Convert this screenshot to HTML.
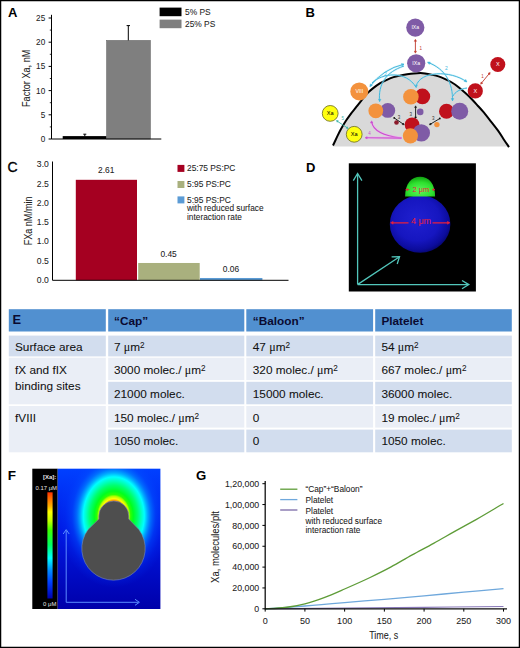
<!DOCTYPE html>
<html><head><meta charset="utf-8"><style>
html,body{margin:0;padding:0;background:#fff;}
#fig{position:relative;width:520px;height:648px;overflow:hidden;background:#fff;}
svg{position:absolute;left:0;top:0;font-family:"Liberation Sans", sans-serif;}
</style></head><body><div id="fig">
<svg width="520" height="648" viewBox="0 0 520 648">
<rect x="0" y="0" width="520" height="648" fill="#fff"/>
<text transform="translate(8.00,16.70)" font-size="13" text-anchor="start" fill="#000" font-weight="bold">A</text>
<rect x="62.7" y="136.1" width="43.9" height="2.9" fill="#000"/>
<rect x="106.6" y="40.4" width="43.8" height="98.6" fill="#7f7f7f" stroke="#6a6a6a" stroke-width="0.6"/>
<path d="M84.8 136.2V134.2M83.3 134.2H86.3" stroke="#000" stroke-width="1" fill="none"/>
<path d="M128.3 40.4V25.6M126.6 25.6H130" stroke="#000" stroke-width="1" fill="none"/>
<path d="M51.5 14.8V139H161.3" stroke="#000" stroke-width="1" fill="none"/>
<path d="M48.6 139.00H51.5" stroke="#000" stroke-width="1"/>
<text transform="translate(45.20,141.90)" font-size="8.2" text-anchor="end" fill="#222" stroke="#222" stroke-width="0.06">0</text>
<path d="M49.8 126.90H51.5" stroke="#000" stroke-width="0.8"/>
<path d="M48.6 114.80H51.5" stroke="#000" stroke-width="1"/>
<text transform="translate(45.20,117.70)" font-size="8.2" text-anchor="end" fill="#222" stroke="#222" stroke-width="0.06">5</text>
<path d="M49.8 102.70H51.5" stroke="#000" stroke-width="0.8"/>
<path d="M48.6 90.60H51.5" stroke="#000" stroke-width="1"/>
<text transform="translate(45.20,93.50)" font-size="8.2" text-anchor="end" fill="#222" stroke="#222" stroke-width="0.06">10</text>
<path d="M49.8 78.50H51.5" stroke="#000" stroke-width="0.8"/>
<path d="M48.6 66.40H51.5" stroke="#000" stroke-width="1"/>
<text transform="translate(45.20,69.30)" font-size="8.2" text-anchor="end" fill="#222" stroke="#222" stroke-width="0.06">15</text>
<path d="M49.8 54.30H51.5" stroke="#000" stroke-width="0.8"/>
<path d="M48.6 42.20H51.5" stroke="#000" stroke-width="1"/>
<text transform="translate(45.20,45.10)" font-size="8.2" text-anchor="end" fill="#222" stroke="#222" stroke-width="0.06">20</text>
<path d="M49.8 30.10H51.5" stroke="#000" stroke-width="0.8"/>
<path d="M48.6 18.00H51.5" stroke="#000" stroke-width="1"/>
<text transform="translate(45.20,20.90)" font-size="8.2" text-anchor="end" fill="#222" stroke="#222" stroke-width="0.06">25</text>
<rect x="159.6" y="7.6" width="21.9" height="8.6" fill="#000"/>
<rect x="159.6" y="19.6" width="21.9" height="8.6" fill="#7f7f7f"/>
<text transform="translate(185.00,15.10)" font-size="8.4" text-anchor="start" fill="#222" stroke="#222" stroke-width="0.06">5% PS</text>
<text transform="translate(185.00,27.10)" font-size="8.4" text-anchor="start" fill="#222" stroke="#222" stroke-width="0.06">25% PS</text>
<text transform="translate(29.90,78.30) rotate(-90) scale(0.775,1.0)" font-size="11.8" text-anchor="middle" fill="#1a1a1a" stroke="#1a1a1a" stroke-width="0.06">Factor Xa, nM</text>
<text transform="translate(305.60,16.80)" font-size="13" text-anchor="start" fill="#000" font-weight="bold">B</text>
<path d="M333.0 145.5 C333.6 144.2 335.5 140.2 336.8 137.4 C338.1 134.7 339.4 131.8 341.0 129.0 C342.6 126.2 344.4 123.1 346.1 120.5 C347.8 117.9 349.5 115.6 351.2 113.3 C352.9 111.0 354.8 108.9 356.3 106.9 C357.9 105.0 358.8 103.8 360.5 101.6 C362.2 99.4 364.5 96.2 366.7 93.9 C368.9 91.6 371.2 89.7 373.5 87.9 C375.8 86.1 378.0 84.6 380.2 83.2 C382.4 81.8 384.7 80.8 386.9 79.8 C389.1 78.8 391.4 77.8 393.6 77.1 C395.9 76.4 398.1 76.0 400.4 75.5 C402.6 75.0 404.9 74.5 407.1 74.2 C409.3 73.9 411.6 73.6 413.8 73.4 C416.1 73.2 418.7 73.1 420.6 73.1 C422.5 73.1 423.1 73.1 425.0 73.4 C426.9 73.7 429.4 74.2 431.7 74.7 C433.9 75.2 436.2 75.7 438.5 76.4 C440.8 77.1 443.0 78.1 445.2 79.1 C447.4 80.1 449.7 81.2 451.9 82.5 C454.1 83.8 456.4 85.4 458.6 87.2 C460.9 89.0 463.1 91.0 465.4 93.1 C467.6 95.1 470.0 97.3 472.1 99.5 C474.2 101.7 476.2 104.0 478.0 106.0 C479.8 108.0 480.6 108.7 482.7 111.2 C484.8 113.7 487.8 117.5 490.4 120.8 C493.0 124.1 495.9 127.7 498.2 130.9 C500.5 134.1 502.5 137.5 504.3 140.2 C506.1 142.9 508.2 145.9 509.0 147.1 L509 146.6 L333 146.6Z" fill="#d9d9d9"/>
<path d="M333.0 145.5 C333.6 144.2 335.5 140.2 336.8 137.4 C338.1 134.7 339.4 131.8 341.0 129.0 C342.6 126.2 344.4 123.1 346.1 120.5 C347.8 117.9 349.5 115.6 351.2 113.3 C352.9 111.0 354.8 108.9 356.3 106.9 C357.9 105.0 358.8 103.8 360.5 101.6 C362.2 99.4 364.5 96.2 366.7 93.9 C368.9 91.6 371.2 89.7 373.5 87.9 C375.8 86.1 378.0 84.6 380.2 83.2 C382.4 81.8 384.7 80.8 386.9 79.8 C389.1 78.8 391.4 77.8 393.6 77.1 C395.9 76.4 398.1 76.0 400.4 75.5 C402.6 75.0 404.9 74.5 407.1 74.2 C409.3 73.9 411.6 73.6 413.8 73.4 C416.1 73.2 418.7 73.1 420.6 73.1 C422.5 73.1 423.1 73.1 425.0 73.4 C426.9 73.7 429.4 74.2 431.7 74.7 C433.9 75.2 436.2 75.7 438.5 76.4 C440.8 77.1 443.0 78.1 445.2 79.1 C447.4 80.1 449.7 81.2 451.9 82.5 C454.1 83.8 456.4 85.4 458.6 87.2 C460.9 89.0 463.1 91.0 465.4 93.1 C467.6 95.1 470.0 97.3 472.1 99.5 C474.2 101.7 476.2 104.0 478.0 106.0 C479.8 108.0 480.6 108.7 482.7 111.2 C484.8 113.7 487.8 117.5 490.4 120.8 C493.0 124.1 495.9 127.7 498.2 130.9 C500.5 134.1 502.5 137.5 504.3 140.2 C506.1 142.9 508.2 145.9 509.0 147.1" fill="none" stroke="#000" stroke-width="2"/>
<path d="M370 86.5 Q383 69 404 64.2" fill="none" stroke="#a8e4f4" stroke-width="2.2" opacity="0.35"/>
<path d="M370 86.5 Q383 69 404 64.2" fill="none" stroke="#43b7dc" stroke-width="1.0"/>
<path d="M370.32 83.92L370.00 86.50L372.34 85.38Z" fill="#43b7dc" stroke="#43b7dc" stroke-width="0.5"/>
<path d="M402.10 65.97L404.00 64.20L401.48 63.56Z" fill="#43b7dc" stroke="#43b7dc" stroke-width="0.5"/>
<path d="M372 83 C382 73 406 70 416.2 87.5" fill="none" stroke="#a8e4f4" stroke-width="2.2" opacity="0.35"/>
<path d="M372 83 C382 73 406 70 416.2 87.5" fill="none" stroke="#43b7dc" stroke-width="1.0"/>
<path d="M414.95 85.22L416.20 87.50L417.45 85.22Z" fill="#43b7dc" stroke="#43b7dc" stroke-width="0.5"/>
<path d="M404 66 C386 72 378 84 379.6 101.5" fill="none" stroke="#a8e4f4" stroke-width="2.2" opacity="0.35"/>
<path d="M404 66 C386 72 378 84 379.6 101.5" fill="none" stroke="#43b7dc" stroke-width="1.0"/>
<path d="M378.47 99.16L379.60 101.50L380.96 99.28Z" fill="#43b7dc" stroke="#43b7dc" stroke-width="0.5"/>
<path d="M427.7 62.3 C446 69 453 84 452.5 100.8" fill="none" stroke="#a8e4f4" stroke-width="2.2" opacity="0.35"/>
<path d="M427.7 62.3 C446 69 453 84 452.5 100.8" fill="none" stroke="#43b7dc" stroke-width="1.0"/>
<path d="M430.29 62.09L427.70 62.30L429.28 64.37Z" fill="#43b7dc" stroke="#43b7dc" stroke-width="0.5"/>
<path d="M451.25 98.52L452.50 100.80L453.75 98.52Z" fill="#43b7dc" stroke="#43b7dc" stroke-width="0.5"/>
<path d="M416.2 86 C420 71 450 70 466.8 81.8" fill="none" stroke="#a8e4f4" stroke-width="2.2" opacity="0.35"/>
<path d="M416.2 86 C420 71 450 70 466.8 81.8" fill="none" stroke="#43b7dc" stroke-width="1.0"/>
<path d="M464.23 81.44L466.80 81.80L465.71 79.44Z" fill="#43b7dc" stroke="#43b7dc" stroke-width="0.5"/>
<path d="M467 88 C460 89 455 92 453 96" fill="none" stroke="#a8e4f4" stroke-width="2.2" opacity="0.35"/>
<path d="M467 88 C460 89 455 92 453 96" fill="none" stroke="#43b7dc" stroke-width="1.0"/>
<text transform="translate(384.00,76.00)" font-size="5" text-anchor="start" fill="#43b7dc">2</text>
<text transform="translate(445.00,70.00)" font-size="5" text-anchor="start" fill="#43b7dc">2</text>
<circle cx="415.3" cy="27.6" r="9.1" fill="#7f5ba6"/>
<text transform="translate(415.30,29.40)" font-size="5.2" text-anchor="middle" fill="#fff">IXa</text>
<circle cx="416.2" cy="63.3" r="9.1" fill="#7f5ba6"/>
<text transform="translate(416.20,65.10)" font-size="5.2" text-anchor="middle" fill="#fff">IXa</text>
<path d="M415.4 40.5V51.8" stroke="#c0392b" stroke-width="0.9"/>
<path d="M416.50 41.32L415.40 39.30L414.30 41.32Z" fill="#c0392b" stroke="#c0392b" stroke-width="0.5"/>
<path d="M414.30 51.18L415.40 53.20L416.50 51.18Z" fill="#c0392b" stroke="#c0392b" stroke-width="0.5"/>
<text transform="translate(419.50,49.50)" font-size="4.5" text-anchor="start" fill="#c0392b">1</text>
<circle cx="497.8" cy="64.5" r="7.5" fill="#c0111c"/>
<text transform="translate(497.80,66.40)" font-size="5.5" text-anchor="middle" fill="#fff">X</text>
<circle cx="475.3" cy="90.9" r="7.6" fill="#c0111c"/>
<text transform="translate(475.30,92.80)" font-size="5.5" text-anchor="middle" fill="#fff">X</text>
<path d="M481.4 83.2L489.4 73.4" stroke="#c0392b" stroke-width="0.9"/>
<path d="M481.05 81.95L480.60 84.20L482.74 83.36Z" fill="#c0392b" stroke="#c0392b" stroke-width="0.5"/>
<path d="M489.81 74.67L490.20 72.40L488.08 73.30Z" fill="#c0392b" stroke="#c0392b" stroke-width="0.5"/>
<text transform="translate(481.20,77.50)" font-size="4.5" text-anchor="start" fill="#c0392b">1</text>
<circle cx="359.3" cy="91.4" r="9.0" fill="#f3923d"/>
<text transform="translate(359.30,93.30)" font-size="5.2" text-anchor="middle" fill="#fff">VIII</text>
<circle cx="330.2" cy="113.4" r="7.9" fill="#ffff10" stroke="#77772a" stroke-width="0.9"/>
<text transform="translate(330.20,115.40)" font-size="5.6" text-anchor="middle" fill="#000">Xa</text>
<circle cx="354.2" cy="134.3" r="7.9" fill="#ffff10" stroke="#77772a" stroke-width="0.9"/>
<text transform="translate(354.20,136.30)" font-size="5.6" text-anchor="middle" fill="#000">Xa</text>
<path d="M337 121L347.5 128" stroke="#3bb3a8" stroke-width="0.9"/>
<path d="M338.29 120.68L336.30 120.50L337.23 122.27Z" fill="#3bb3a8" stroke="#3bb3a8" stroke-width="0.5"/>
<path d="M346.21 128.32L348.20 128.50L347.27 126.73Z" fill="#3bb3a8" stroke="#3bb3a8" stroke-width="0.5"/>
<text transform="translate(341.50,119.80)" font-size="4.5" text-anchor="start" fill="#3bb3a8">5</text>
<path d="M401.6 138 C385 136 373 131 371.7 121.8" fill="none" stroke="#f0b0f0" stroke-width="2.6" opacity="0.6"/>
<path d="M401.6 138 C385 136 373 131 371.7 121.8" fill="none" stroke="#cc4fd0" stroke-width="1.1"/>
<path d="M401.6 138.1 L366.5 137.8" fill="none" stroke="#f0b0f0" stroke-width="2.6" opacity="0.6"/>
<path d="M401.6 138.1 L366.5 137.8" fill="none" stroke="#cc4fd0" stroke-width="1.1"/>
<path d="M372.75 122.91L371.60 120.80L370.45 122.91Z" fill="#cc4fd0" stroke="#cc4fd0" stroke-width="0.5"/>
<path d="M367.11 136.65L365.00 137.80L367.11 138.95Z" fill="#cc4fd0" stroke="#cc4fd0" stroke-width="0.5"/>
<text transform="translate(368.30,134.80)" font-size="4.5" text-anchor="start" fill="#cc4fd0">4</text>
<circle cx="387.8" cy="110.4" r="7.4" fill="#7f5ba6"/>
<circle cx="375.8" cy="110.8" r="7.4" fill="#f3923d"/>
<circle cx="422.4" cy="96.4" r="7.8" fill="#c0111c"/>
<circle cx="410.9" cy="96.7" r="7.8" fill="#f3923d"/>
<circle cx="420.2" cy="111.9" r="3.3" fill="#7f5ba6"/>
<path d="M415.6 107.2V117.3" stroke="#111" stroke-width="0.9"/>
<path d="M416.56 107.56L415.60 105.80L414.64 107.56Z" fill="#111" stroke="#111" stroke-width="0.5"/>
<path d="M414.64 116.94L415.60 118.70L416.56 116.94Z" fill="#111" stroke="#111" stroke-width="0.5"/>
<text transform="translate(409.50,115.50)" font-size="4.5" text-anchor="start" fill="#333">3</text>
<circle cx="412.1" cy="124.8" r="7.4" fill="#c0111c"/>
<circle cx="421.3" cy="132.9" r="8.7" fill="#7f5ba6"/>
<circle cx="410.4" cy="135.8" r="7.6" fill="#f3923d"/>
<circle cx="396.5" cy="122.5" r="2.3" fill="#8b1a2b"/>
<path d="M394.2 117.9L403.5 124.3" stroke="#111" stroke-width="0.9"/>
<circle cx="394.2" cy="117.9" r="0.9" fill="#111"/>
<path d="M402.21 124.59L404.20 124.80L403.30 123.02Z" fill="#111" stroke="#111" stroke-width="0.5"/>
<text transform="translate(397.70,119.00)" font-size="4.5" text-anchor="start" fill="#333">3</text>
<circle cx="436.9" cy="124.6" r="2.7" fill="#f3923d"/>
<path d="M439.8 118.5L430 124.4" stroke="#111" stroke-width="0.9"/>
<circle cx="439.8" cy="118.5" r="0.9" fill="#111"/>
<path d="M430.27 123.05L429.30 124.80L431.30 124.68Z" fill="#111" stroke="#111" stroke-width="0.5"/>
<text transform="translate(432.00,119.50)" font-size="4.5" text-anchor="start" fill="#333">3</text>
<circle cx="446.5" cy="111.2" r="7.5" fill="#c0111c"/>
<circle cx="459.7" cy="111.2" r="8.5" fill="#7f5ba6"/>
<text transform="translate(7.60,172.00)" font-size="14" text-anchor="start" fill="#000" stroke="#000" stroke-width="0.35">C</text>
<rect x="75.8" y="179.81" width="61.2" height="100.48" fill="#a50021"/>
<rect x="138.2" y="262.98" width="61.5" height="17.32" fill="#a9b07e"/>
<rect x="200" y="277.99" width="62.4" height="2.31" fill="#5b9bd5"/>
<path d="M52.5 161.5V280.3H288.5" stroke="#000" stroke-width="1" fill="none"/>
<text transform="translate(48.80,282.80)" font-size="8.6" text-anchor="end" fill="#222" stroke="#222" stroke-width="0.06">0.0</text>
<text transform="translate(48.80,263.55)" font-size="8.6" text-anchor="end" fill="#222" stroke="#222" stroke-width="0.06">0.5</text>
<text transform="translate(48.80,244.30)" font-size="8.6" text-anchor="end" fill="#222" stroke="#222" stroke-width="0.06">1.0</text>
<text transform="translate(48.80,225.05)" font-size="8.6" text-anchor="end" fill="#222" stroke="#222" stroke-width="0.06">1.5</text>
<text transform="translate(48.80,205.80)" font-size="8.6" text-anchor="end" fill="#222" stroke="#222" stroke-width="0.06">2.0</text>
<text transform="translate(48.80,186.55)" font-size="8.6" text-anchor="end" fill="#222" stroke="#222" stroke-width="0.06">2.5</text>
<text transform="translate(48.80,167.30)" font-size="8.6" text-anchor="end" fill="#222" stroke="#222" stroke-width="0.06">3.0</text>
<text transform="translate(106.20,173.20)" font-size="8.4" text-anchor="middle" fill="#222" stroke="#222" stroke-width="0.06">2.61</text>
<text transform="translate(168.60,256.60)" font-size="8.4" text-anchor="middle" fill="#222" stroke="#222" stroke-width="0.06">0.45</text>
<text transform="translate(231.00,272.20)" font-size="8.4" text-anchor="middle" fill="#222" stroke="#222" stroke-width="0.06">0.06</text>
<text transform="translate(31.50,220.90) rotate(-90) scale(0.81,1.0)" font-size="11.2" text-anchor="middle" fill="#1a1a1a" stroke="#1a1a1a" stroke-width="0.06">FXa nM/min</text>
<rect x="177.5" y="164.9" width="6.9" height="7" fill="#a50021"/>
<rect x="177.5" y="181" width="6.9" height="7" fill="#a9b07e"/>
<rect x="177.5" y="196.4" width="6.9" height="7" fill="#5b9bd5"/>
<text transform="translate(187.00,171.40)" font-size="8.4" text-anchor="start" fill="#222" stroke="#222" stroke-width="0.06">25:75 PS:PC</text>
<text transform="translate(187.00,187.20)" font-size="8.4" text-anchor="start" fill="#222" stroke="#222" stroke-width="0.06">5:95 PS:PC</text>
<text transform="translate(187.00,202.60)" font-size="8.4" text-anchor="start" fill="#222" stroke="#222" stroke-width="0.06">5:95 PS:PC</text>
<text transform="translate(187.00,211.20)" font-size="8.3" text-anchor="start" fill="#222" stroke="#222" stroke-width="0.06">with reduced surface</text>
<text transform="translate(187.00,219.80)" font-size="8.3" text-anchor="start" fill="#222" stroke="#222" stroke-width="0.06">interaction rate</text>
<text transform="translate(306.00,171.70)" font-size="13" text-anchor="start" fill="#000" font-weight="bold">D</text>
<rect x="348.8" y="163.3" width="127.1" height="128.2" fill="#000"/>
<defs>
<radialGradient id="gBlue" cx="0.45" cy="0.42" r="0.62">
<stop offset="0" stop-color="#2020d0"/><stop offset="0.6" stop-color="#1616c0"/><stop offset="0.85" stop-color="#0c0c9c"/><stop offset="1" stop-color="#050560"/>
</radialGradient>
<radialGradient id="gGreen" cx="0.5" cy="0.7" r="0.7">
<stop offset="0" stop-color="#5cf55c"/><stop offset="0.6" stop-color="#2ee02e"/><stop offset="1" stop-color="#10a010"/>
</radialGradient>
</defs>
<ellipse cx="420.1" cy="224" rx="30.3" ry="28.7" fill="url(#gBlue)"/>
<path d="M405.1 196.6 C405.1 183.5 411.5 176.8 420.1 176.8 C428.7 176.8 435.1 183.5 435.1 196.6 Z" fill="url(#gGreen)"/>
<path d="M392 222.8H408.5M432.5 222.8H448.5" stroke="#e8203c" stroke-width="1.3"/>
<path d="M393.13 221.36L390.50 222.80L393.13 224.24Z" fill="#e8203c" stroke="#e8203c" stroke-width="0.5"/>
<path d="M447.37 224.24L450.00 222.80L447.37 221.36Z" fill="#e8203c" stroke="#e8203c" stroke-width="0.5"/>
<text transform="translate(421.00,224.20)" font-size="9" text-anchor="middle" fill="#e8203c">4 μm</text>
<path d="M406.5 189.6H409.3M432.3 189.6H434" stroke="#e8203c" stroke-width="0.9"/>
<path d="M407.53 188.55L405.60 189.60L407.53 190.65Z" fill="#e8203c" stroke="#e8203c" stroke-width="0.5"/>
<path d="M433.07 190.65L435.00 189.60L433.07 188.55Z" fill="#e8203c" stroke="#e8203c" stroke-width="0.5"/>
<text transform="translate(420.80,192.30)" font-size="7.4" text-anchor="middle" fill="#e8203c">2 μm</text>
<path d="M357.6 284.6V174M357.6 284.6H468M357.8 284.4L398.8 257.2" stroke="#52c6bb" stroke-width="1.3" fill="none"/>
<path d="M353.3 180.6L357.6 173.4L361.9 180.6" stroke="#52c6bb" stroke-width="1.3" fill="none"/>
<path d="M462 280.5L468.8 284.6L462 288.7" stroke="#52c6bb" stroke-width="1.3" fill="none"/>
<path d="M391.6 256.9L399.5 256.7L397.2 264" stroke="#52c6bb" stroke-width="1.3" fill="none"/>
<rect x="8.8" y="309.2" width="97.0" height="22.3" fill="#5190d0"/>
<rect x="108.2" y="309.2" width="136.1" height="22.3" fill="#5190d0"/>
<rect x="246.3" y="309.2" width="126.8" height="22.3" fill="#5190d0"/>
<rect x="375.2" y="309.2" width="136.6" height="22.3" fill="#5190d0"/>
<rect x="8.8" y="335.6" width="97.0" height="20.8" fill="#d2ddee"/>
<rect x="108.2" y="335.6" width="136.1" height="20.8" fill="#d2ddee"/>
<rect x="246.3" y="335.6" width="126.8" height="20.8" fill="#d2ddee"/>
<rect x="375.2" y="335.6" width="136.6" height="20.8" fill="#d2ddee"/>
<rect x="8.8" y="357.7" width="97.0" height="46.6" fill="#eaeef6"/>
<rect x="8.8" y="406.0" width="97.0" height="46.3" fill="#eaeef6"/>
<rect x="108.2" y="357.7" width="136.1" height="22.4" fill="#eaeef6"/>
<rect x="246.3" y="357.7" width="126.8" height="22.4" fill="#eaeef6"/>
<rect x="375.2" y="357.7" width="136.6" height="22.4" fill="#eaeef6"/>
<rect x="108.2" y="381.8" width="136.1" height="22.5" fill="#d2ddee"/>
<rect x="246.3" y="381.8" width="126.8" height="22.5" fill="#d2ddee"/>
<rect x="375.2" y="381.8" width="136.6" height="22.5" fill="#d2ddee"/>
<rect x="108.2" y="406.0" width="136.1" height="21.6" fill="#eaeef6"/>
<rect x="246.3" y="406.0" width="126.8" height="21.6" fill="#eaeef6"/>
<rect x="375.2" y="406.0" width="136.6" height="21.6" fill="#eaeef6"/>
<rect x="108.2" y="429.6" width="136.1" height="22.7" fill="#d2ddee"/>
<rect x="246.3" y="429.6" width="126.8" height="22.7" fill="#d2ddee"/>
<rect x="375.2" y="429.6" width="136.6" height="22.7" fill="#d2ddee"/>
<text transform="translate(12.60,324.20)" font-size="12.8" text-anchor="start" fill="#0a0a30" font-weight="bold">E</text>
<text transform="translate(114.00,324.50)" font-size="11.8" text-anchor="start" fill="#0a0a30" font-weight="bold">“Cap”</text>
<text transform="translate(252.80,324.50)" font-size="11.8" text-anchor="start" fill="#0a0a30" font-weight="bold">“Baloon”</text>
<text transform="translate(381.40,324.50)" font-size="11.8" text-anchor="start" fill="#0a0a30" font-weight="bold">Platelet</text>
<text transform="translate(15.00,350.60)" font-size="11.8" text-anchor="start" fill="#111" stroke="#111" stroke-width="0.06">Surface area</text>
<text transform="translate(114.00,350.60)" font-size="11.8" text-anchor="start" fill="#111" stroke="#111" stroke-width="0.06">7 <tspan font-family="Liberation Serif" font-size="12">μ</tspan>m<tspan font-size="8.2" dy="-3.0">2</tspan></text>
<text transform="translate(252.80,350.60)" font-size="11.8" text-anchor="start" fill="#111" stroke="#111" stroke-width="0.06">47 <tspan font-family="Liberation Serif" font-size="12">μ</tspan>m<tspan font-size="8.2" dy="-3.0">2</tspan></text>
<text transform="translate(381.40,350.60)" font-size="11.8" text-anchor="start" fill="#111" stroke="#111" stroke-width="0.06">54 <tspan font-family="Liberation Serif" font-size="12">μ</tspan>m<tspan font-size="8.2" dy="-3.0">2</tspan></text>
<text transform="translate(15.00,374.30)" font-size="11.8" text-anchor="start" fill="#111" stroke="#111" stroke-width="0.06">fX and fIX</text>
<text transform="translate(15.00,390.40)" font-size="11.8" text-anchor="start" fill="#111" stroke="#111" stroke-width="0.06">binding sites</text>
<text transform="translate(114.00,374.40)" font-size="11.8" text-anchor="start" fill="#111" stroke="#111" stroke-width="0.06">3000 molec./ <tspan font-family="Liberation Serif" font-size="12">μ</tspan>m<tspan font-size="8.2" dy="-3.0">2</tspan></text>
<text transform="translate(252.80,374.40)" font-size="11.8" text-anchor="start" fill="#111" stroke="#111" stroke-width="0.06">320 molec./ <tspan font-family="Liberation Serif" font-size="12">μ</tspan>m<tspan font-size="8.2" dy="-3.0">2</tspan></text>
<text transform="translate(381.40,374.40)" font-size="11.8" text-anchor="start" fill="#111" stroke="#111" stroke-width="0.06">667 molec./ <tspan font-family="Liberation Serif" font-size="12">μ</tspan>m<tspan font-size="8.2" dy="-3.0">2</tspan></text>
<text transform="translate(114.00,398.10)" font-size="11.8" text-anchor="start" fill="#111" stroke="#111" stroke-width="0.06">21000 molec.</text>
<text transform="translate(252.80,398.10)" font-size="11.8" text-anchor="start" fill="#111" stroke="#111" stroke-width="0.06">15000 molec.</text>
<text transform="translate(381.40,398.10)" font-size="11.8" text-anchor="start" fill="#111" stroke="#111" stroke-width="0.06">36000 molec.</text>
<text transform="translate(15.00,421.60)" font-size="11.8" text-anchor="start" fill="#111" stroke="#111" stroke-width="0.06">fVIII</text>
<text transform="translate(114.00,422.40)" font-size="11.8" text-anchor="start" fill="#111" stroke="#111" stroke-width="0.06">150 molec./ <tspan font-family="Liberation Serif" font-size="12">μ</tspan>m<tspan font-size="8.2" dy="-3.0">2</tspan></text>
<text transform="translate(252.80,422.40)" font-size="11.8" text-anchor="start" fill="#111" stroke="#111" stroke-width="0.06">0</text>
<text transform="translate(381.40,422.40)" font-size="11.8" text-anchor="start" fill="#111" stroke="#111" stroke-width="0.06">19 molec./ <tspan font-family="Liberation Serif" font-size="12">μ</tspan>m<tspan font-size="8.2" dy="-3.0">2</tspan></text>
<text transform="translate(114.00,445.30)" font-size="11.8" text-anchor="start" fill="#111" stroke="#111" stroke-width="0.06">1050 molec.</text>
<text transform="translate(252.80,445.30)" font-size="11.8" text-anchor="start" fill="#111" stroke="#111" stroke-width="0.06">0</text>
<text transform="translate(381.40,445.30)" font-size="11.8" text-anchor="start" fill="#111" stroke="#111" stroke-width="0.06">1050 molec.</text>
<text transform="translate(7.80,479.90)" font-size="13.5" text-anchor="start" fill="#000" font-weight="bold">F</text>
<defs>
<linearGradient id="fBg" x1="0" y1="0" x2="0" y2="1">
<stop offset="0" stop-color="#0040ff"/><stop offset="0.45" stop-color="#0018e4"/><stop offset="1" stop-color="#0000aa"/>
</linearGradient>
<radialGradient id="fHeat" gradientUnits="userSpaceOnUse" cx="113.8" cy="516" r="60" gradientTransform="translate(113.8 516) scale(1 1.28) translate(-113.8 -516)">
<stop offset="0.0000" stop-color="#ff0000"/>
<stop offset="0.1833" stop-color="#ff2000"/>
<stop offset="0.1950" stop-color="#ff7000"/>
<stop offset="0.2100" stop-color="#ffc000"/>
<stop offset="0.2267" stop-color="#ffff00"/>
<stop offset="0.2567" stop-color="#b0ff00"/>
<stop offset="0.2800" stop-color="#30ff00"/>
<stop offset="0.3250" stop-color="#00ff20"/>
<stop offset="0.4000" stop-color="#00ff70"/>
<stop offset="0.4583" stop-color="#00ffc0"/>
<stop offset="0.5083" stop-color="#00ffff"/>
<stop offset="0.5583" stop-color="#00b0ff"/>
<stop offset="0.6167" stop-color="#0078ff" stop-opacity="0.85"/>
<stop offset="0.7000" stop-color="#0050ff" stop-opacity="0.5"/>
<stop offset="0.8167" stop-color="#0040ff" stop-opacity="0.18"/>
<stop offset="0.9333" stop-color="#0040ff" stop-opacity="0"/>
</radialGradient>
<linearGradient id="fBar" x1="0" y1="0" x2="0" y2="1">
<stop offset="0" stop-color="#ff3000"/><stop offset="0.044" stop-color="#ff6000"/><stop offset="0.13" stop-color="#ffb000"/>
<stop offset="0.185" stop-color="#ffff00"/><stop offset="0.27" stop-color="#c0ff00"/><stop offset="0.355" stop-color="#40ff00"/>
<stop offset="0.495" stop-color="#00ff60"/><stop offset="0.62" stop-color="#00ffff"/><stop offset="0.73" stop-color="#0090ff"/>
<stop offset="0.845" stop-color="#0040ff"/><stop offset="1" stop-color="#0000b0"/>
</linearGradient>
<clipPath id="fClip"><rect x="57.7" y="468.7" width="102.7" height="140.3"/></clipPath>
</defs>
<rect x="32.3" y="468.7" width="25.4" height="140.3" fill="#000"/>
<rect x="57.7" y="468.7" width="102.7" height="140.3" fill="url(#fBg)"/>
<rect x="57.7" y="468.7" width="102.7" height="140.3" fill="url(#fHeat)" clip-path="url(#fClip)"/>
<rect x="47.4" y="492.3" width="5.2" height="106.2" fill="url(#fBar)"/>
<text transform="translate(49.60,479.00)" font-size="6" text-anchor="middle" fill="#e6e6e6" font-weight="bold">[Xa]:</text>
<text transform="translate(46.30,490.00)" font-size="5.9" text-anchor="middle" fill="#e6e6e6">0.17 μM</text>
<text transform="translate(49.70,605.80)" font-size="5.9" text-anchor="middle" fill="#e6e6e6">0 μM</text>
<path d="M98.8 516 A15 15 0 0 1 128.8 516 L128.8 519 L138.9 529.5 A31.7 31.7 0 1 1 88.1 529.5 L98.8 519 Z" fill="#4e4e4e" stroke="#7a8ab8" stroke-width="0.6"/>
<path d="M66.2 602.3V530.5M66.2 602.3H138.5" stroke="#5a8cff" stroke-width="1" fill="none"/>
<path d="M63.2 534L66.2 529.6L69.2 534" stroke="#5a8cff" stroke-width="1" fill="none"/>
<path d="M135 599.3L139.4 602.3L135 605.3" stroke="#5a8cff" stroke-width="1" fill="none"/>
<text transform="translate(196.00,479.90)" font-size="13.2" text-anchor="start" fill="#000" font-weight="bold">G</text>
<path d="M265.2 608.8 C278.4 608.7 318.2 608.3 344.6 608.1 C371.1 607.8 397.6 607.5 424.1 607.3 C450.6 607.0 490.3 606.6 503.5 606.5" fill="none" stroke="#8878b8" stroke-width="1.2"/>
<path d="M265.2 608.8 C271.8 608.3 291.7 607.0 304.9 606.0 C318.2 605.0 331.4 603.8 344.6 602.6 C357.9 601.5 371.1 600.4 384.4 599.3 C397.6 598.1 410.8 596.9 424.1 595.8 C437.3 594.6 450.6 593.4 463.8 592.2 C477.0 591.1 496.9 589.3 503.5 588.7" fill="none" stroke="#6fa8dc" stroke-width="1.3"/>
<path d="M265.2 608.8 C268.5 608.6 278.4 608.4 285.1 607.5 C291.7 606.7 298.3 605.5 304.9 603.8 C311.5 602.1 318.2 599.8 324.8 597.3 C331.4 594.9 337.1 592.3 344.6 589.0 C352.2 585.7 362.3 581.2 370.1 577.5 C377.8 573.8 384.1 570.7 391.1 566.9 C398.1 563.1 405.1 558.8 412.2 554.9 C419.2 551.0 426.6 547.2 433.6 543.3 C440.6 539.5 447.1 535.7 454.3 531.7 C461.4 527.7 468.3 524.0 476.5 519.4 C484.7 514.7 499.0 506.1 503.5 503.5" fill="none" stroke="#5e9c38" stroke-width="1.35"/>
<path d="M265.2 481V608.8H507" stroke="#111" stroke-width="1.3" fill="none"/>
<path d="M262.4 608.80H265.2" stroke="#000" stroke-width="1"/>
<text transform="translate(259.20,611.90)" font-size="8.8" text-anchor="end" fill="#222" stroke="#222" stroke-width="0.06">0</text>
<path d="M262.4 587.95H265.2" stroke="#000" stroke-width="1"/>
<text transform="translate(259.20,591.05)" font-size="8.8" text-anchor="end" fill="#222" stroke="#222" stroke-width="0.06">20,000</text>
<path d="M262.4 567.10H265.2" stroke="#000" stroke-width="1"/>
<text transform="translate(259.20,570.20)" font-size="8.8" text-anchor="end" fill="#222" stroke="#222" stroke-width="0.06">40,000</text>
<path d="M262.4 546.25H265.2" stroke="#000" stroke-width="1"/>
<text transform="translate(259.20,549.35)" font-size="8.8" text-anchor="end" fill="#222" stroke="#222" stroke-width="0.06">60,000</text>
<path d="M262.4 525.40H265.2" stroke="#000" stroke-width="1"/>
<text transform="translate(259.20,528.50)" font-size="8.8" text-anchor="end" fill="#222" stroke="#222" stroke-width="0.06">80,000</text>
<path d="M262.4 504.55H265.2" stroke="#000" stroke-width="1"/>
<text transform="translate(259.20,507.65)" font-size="8.8" text-anchor="end" fill="#222" stroke="#222" stroke-width="0.06">1,00,000</text>
<path d="M262.4 483.70H265.2" stroke="#000" stroke-width="1"/>
<text transform="translate(259.20,486.80)" font-size="8.8" text-anchor="end" fill="#222" stroke="#222" stroke-width="0.06">1,20,000</text>
<path d="M265.20 608.8V611.6" stroke="#000" stroke-width="1"/>
<text transform="translate(265.20,624.20)" font-size="9" text-anchor="middle" fill="#1a1a1a" stroke="#1a1a1a" stroke-width="0.06">0</text>
<path d="M304.92 608.8V611.6" stroke="#000" stroke-width="1"/>
<text transform="translate(304.92,624.20)" font-size="9" text-anchor="middle" fill="#1a1a1a" stroke="#1a1a1a" stroke-width="0.06">50</text>
<path d="M344.64 608.8V611.6" stroke="#000" stroke-width="1"/>
<text transform="translate(344.64,624.20)" font-size="9" text-anchor="middle" fill="#1a1a1a" stroke="#1a1a1a" stroke-width="0.06">100</text>
<path d="M384.36 608.8V611.6" stroke="#000" stroke-width="1"/>
<text transform="translate(384.36,624.20)" font-size="9" text-anchor="middle" fill="#1a1a1a" stroke="#1a1a1a" stroke-width="0.06">150</text>
<path d="M424.08 608.8V611.6" stroke="#000" stroke-width="1"/>
<text transform="translate(424.08,624.20)" font-size="9" text-anchor="middle" fill="#1a1a1a" stroke="#1a1a1a" stroke-width="0.06">200</text>
<path d="M463.80 608.8V611.6" stroke="#000" stroke-width="1"/>
<text transform="translate(463.80,624.20)" font-size="9" text-anchor="middle" fill="#1a1a1a" stroke="#1a1a1a" stroke-width="0.06">250</text>
<path d="M503.52 608.8V611.6" stroke="#000" stroke-width="1"/>
<text transform="translate(503.52,624.20)" font-size="9" text-anchor="middle" fill="#1a1a1a" stroke="#1a1a1a" stroke-width="0.06">300</text>
<text transform="translate(383.70,638.50) scale(0.78,1.0)" font-size="11.5" text-anchor="middle" fill="#222" stroke="#222" stroke-width="0.06">Time, s</text>
<text transform="translate(218.50,547.00) rotate(-90) scale(0.8,1.0)" font-size="11.8" text-anchor="middle" fill="#1a1a1a" stroke="#1a1a1a" stroke-width="0.06">Xa, molecules/plt</text>
<path d="M280.2 489.2H297.4" stroke="#5e9c38" stroke-width="1.3"/>
<path d="M280.2 499.6H297.4" stroke="#6fa8dc" stroke-width="1.3"/>
<path d="M280.2 510H297.4" stroke="#7a6aa8" stroke-width="1.3"/>
<text transform="translate(305.50,492.30)" font-size="8.3" text-anchor="start" fill="#1a1a1a" stroke="#1a1a1a" stroke-width="0.06">“Cap”+“Baloon”</text>
<text transform="translate(305.50,502.90)" font-size="8.3" text-anchor="start" fill="#1a1a1a" stroke="#1a1a1a" stroke-width="0.06">Platelet</text>
<text transform="translate(305.50,513.50)" font-size="8.3" text-anchor="start" fill="#1a1a1a" stroke="#1a1a1a" stroke-width="0.06">Platelet</text>
<text transform="translate(305.50,523.60)" font-size="8.3" text-anchor="start" fill="#1a1a1a" stroke="#1a1a1a" stroke-width="0.06">with reduced surface</text>
<text transform="translate(305.50,533.20)" font-size="8.3" text-anchor="start" fill="#1a1a1a" stroke="#1a1a1a" stroke-width="0.06">interaction rate</text>
<rect x="0.6" y="0.6" width="518.8" height="646.8" fill="none" stroke="#000" stroke-width="1.3"/>
</svg></div></body></html>
